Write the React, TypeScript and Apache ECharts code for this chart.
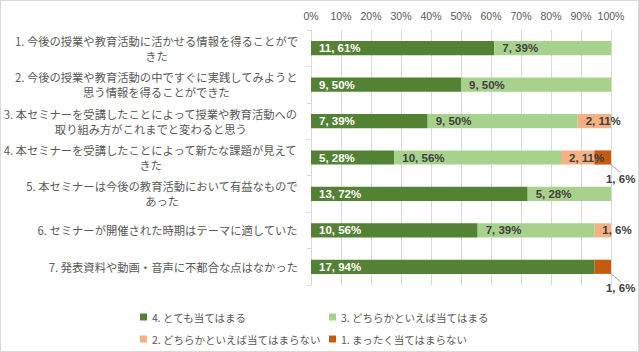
import React, { useEffect, useRef } from "react";
import * as echarts from "echarts";

const categories = [
  "1. 今後の授業や教育活動に活かせる情報を得ることがで\nきた",
  "2. 今後の授業や教育活動の中ですぐに実践してみようと\n思う情報を得ることができた",
  "3. 本セミナーを受講したことによって授業や教育活動への\n取り組み方がこれまでと変わると思う",
  "4. 本セミナーを受講したことによって新たな課題が見えて\nきた",
  "5. 本セミナーは今後の教育活動において有益なもので\nあった",
  "6. セミナーが開催された時期はテーマに適していた",
  "7. 発表資料や動画・音声に不都合な点はなかった",
];

const seriesNames = [
  "4. とても当てはまる",
  "3. どちらかといえば当てはまる",
  "2. どちらかといえば当てはまらない",
  "1. まったく当てはまらない",
];

const veryMuch = [11, 9, 7, 5, 13, 10, 17];
const somewhat = [7, 9, 9, 10, 5, 7, 0];
const somewhatNot = [0, 0, 2, 2, 0, 1, 0];
const notAtAll = [0, 0, 0, 1, 0, 0, 1];

const colors = ["#548235", "#A9D18E", "#F4B183", "#C55A11"];
const labelColors = ["#FFFFFF", "#404040", "#404040", "#404040"];

const CAT_FONT_SIZE = 11.3;
const CAT_FONT_FAMILY = '"Noto Sans CJK JP", sans-serif';

export default function App() {
  const ref = useRef<HTMLDivElement>(null);
  useEffect(() => {
    document.body.style.margin = "0";
    const chart = echarts.init(ref.current!, null, { renderer: "svg" });
    const counts = [veryMuch, somewhat, somewhatNot, notAtAll];
    const totals = categories.map((_, i) => counts.reduce((s, a) => s + a[i], 0));

    // Center wrapped lines within each right-aligned label block.
    const ctx = document.createElement("canvas").getContext("2d")!;
    ctx.font = `${CAT_FONT_SIZE}px ${CAT_FONT_FAMILY}`;
    const rich: Record<string, any> = {};
    const catKeys: Record<string, string[]> = {};
    categories.forEach((cat, i) => {
      const lines = cat.split("\n");
      const widths = lines.map((l) => ctx.measureText(l).width);
      const maxW = Math.max(...widths);
      catKeys[cat] = lines.map((l, j) => {
        const key = `r${i}x${j}`;
        rich[key] = {
          align: "left",
          padding: [0, 0, 0, Math.round(((maxW - widths[j]) / 2) * 10) / 10],
          fontSize: CAT_FONT_SIZE,
          lineHeight: 15,
          color: "#595959",
          fontFamily: CAT_FONT_FAMILY,
        };
        return key;
      });
    });

    const series = counts.map((arr, si) => ({
      name: seriesNames[si],
      type: "bar",
      stack: "total",
      barCategoryGap: "61%",
      itemStyle: { color: colors[si] },
      data: arr.map((c, i) => (c === 0 ? null : { value: (c / totals[i]) * 100, count: c })),
      label: {
        show: true,
        position: si === 3 ? "inside" : "insideLeft",
        distance: 8,
        color: labelColors[si],
        fontSize: 11.5,
        fontWeight: "bold",
        fontFamily: '"Liberation Sans", Arial, sans-serif',
        formatter: (p: any) => (p.data ? `${p.data.count}, ${Math.round(p.value)}%` : ""),
      },
      ...(si === 3
        ? {
            labelLayout: { dx: 18, dy: 21 },
            labelLine: { show: true, lineStyle: { color: "#a6a6a6", width: 1 } },
          }
        : {}),
    }));
    chart.setOption({
      animation: false,
      grid: { left: 311, right: 28, top: 30, bottom: 67, containLabel: false },
      xAxis: {
        type: "value",
        position: "top",
        min: 0,
        max: 100,
        interval: 10,
        axisLine: { show: false },
        axisTick: { show: false },
        splitLine: { show: true, lineStyle: { color: "#d9d9d9" } },
        axisLabel: {
          formatter: "{value}%",
          color: "#595959",
          fontSize: 10.5,
          margin: 9,
          fontFamily: '"Liberation Sans", Arial, sans-serif',
        },
      },
      yAxis: {
        type: "category",
        inverse: true,
        data: categories,
        axisLine: { show: true, lineStyle: { color: "#d9d9d9" } },
        axisTick: { show: true, length: 4, lineStyle: { color: "#d9d9d9" } },
        axisLabel: {
          margin: 13,
          align: "right",
          formatter: (v: string) =>
            v
              .split("\n")
              .map((l, j) => `{${catKeys[v][j]}|${l}}`)
              .join("\n"),
          rich,
        },
      },
      legend: {
        left: 135,
        top: 304,
        width: 400,
        itemWidth: 7,
        itemHeight: 7,
        icon: "rect",
        itemGap: 6,
        textStyle: {
          fontSize: 10.5,
          color: "#595959",
          width: 171,
          lineHeight: 16,
          fontFamily: '"Noto Sans CJK JP", sans-serif',
        },
        data: seriesNames,
      },
      series,
    } as any);
    return () => chart.dispose();
  }, []);
  return (
    <div style={{ position: "relative", width: 639, height: 352 }}>
      <div ref={ref} style={{ width: 639, height: 352 }} />
      <div
        style={{
          position: "absolute",
          left: 0,
          top: 0,
          width: 639,
          height: 352,
          boxSizing: "border-box",
          border: "1px solid #d9d9d9",
          pointerEvents: "none",
        }}
      />
    </div>
  );
}
